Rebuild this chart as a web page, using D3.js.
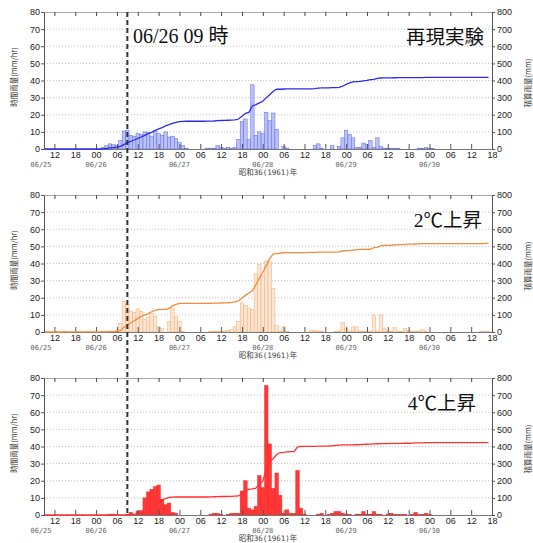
<!DOCTYPE html>
<html>
<head>
<meta charset="utf-8">
<script src="https://cdn.jsdelivr.net/npm/d3@7"></script>
<style>
body { margin: 0; background: #fff; }
svg text { font-family: "Liberation Sans", Arial, sans-serif; }
</style>
</head>
<body>
<svg width="533" height="543"></svg>
<script>
var svg = d3.select("svg");

// hourly rain (mm/hr), one value per hour starting 1961-06-25 09:00
// rows: 06/25 09-23, 06/26, 06/27, 06/28, 06/29, 06/30 00-17
var rainRepro = [
  0,0,0,0,0,0,0,0,0,0,0,0,0,0,0,
  0,0,1,2,3,2.5,2,5,10.5,11,8,7.5,9,8.5,10,9.5,7.5,11,9,8,10,7,7.5,6,
  4,2,0.5,0,0,0,0,0,0.5,0.5,0.5,2,1,0.5,1,0.5,1,5.5,16,17.5,5.5,37.5,8,10,
  9,21.5,16.5,21,11.5,0,1.5,0.5,0,0,0,0,0,0,0,2,3,0.5,0,0,2,0,1.5,6.5,
  11,8.5,6.5,1,1,3.5,2.5,5,1,6.5,1.5,0.5,0.3,0.5,0.3,0.3,0,0,0,0,0,0.5,0.3,0.8,
  0.5,0.3,0,0,0,0,0,0,0,0,0,0,0,0,0,0,0,0
];
var rain2C = [
  0,0,0,0,0,0,0.5,0,0,0,0,0,0,0,0,
  0,0,0.3,0.5,0.5,0.5,1,5,18,16,12,11.5,13.5,12,7.5,8.5,11,9,3,2,0,6,14,9,
  6,0.3,0,0,0,0,0,0,0,0.3,0.5,0.5,0.5,0.5,1,1.5,3,6,17,15.5,14,13,34,39.5,
  33,41.5,41,25.5,4,0.5,3,0.5,0,0,0,0,0,0,1,1,0.5,0.5,0,0,0,0.5,0.5,5.5,
  2,0.5,3,3,0.5,0.5,0.3,0.5,10,0.5,10,2,0.5,0.5,2.5,0.5,0.3,2,1,0.5,0.3,0.5,1.5,0.5,
  0,0,0,0,0,0,0,0,0,0,0,0,0,0,0,0.3,0.5,0.5
];
var rain4C = [
  0,0,0,0,0,0,0,0,0,0,0,0,0,0,0,
  0,0,0,0,0.5,0.5,0,0,0,0.3,1.5,0.5,2.3,2.5,10,13.5,15,16.5,17.5,9,6,7,1.5,1,
  0,0,0,0,0,0,0,0,0,0.5,1,1,0.3,0,0.3,1,1,1,14,20,4,3,5,23,
  16,75.5,41.5,15.5,24.5,11.5,1,3,1,1,26,4,0.5,0,0,0,0.5,1,0,0.3,1,2,2,1,
  0.5,0.3,0,0.5,0.5,2,0.3,0.5,2,0.5,0.3,0,0.5,1,0.3,0.3,0.3,0.3,0,0.3,1.5,0.3,0.3,1,
  0.3,0,0,0,0,0,0,0,0,0,0,0,0,0,0,0,0,0
];

var panelTitles = ["再現実験", "2℃上昇", "4℃上昇"];
var dayLabels = ["06/25", "06/26", "06/27", "06/28", "06/29", "06/30"];
var rainTicks = [0, 10, 20, 30, 40, 50, 60, 70, 80];
var cumTicks = [0, 100, 200, 300, 400, 500, 600, 700, 800];
var markLabel = "06/26 09 時";
var yearLabel = "昭和36(1961)年";

var startTime = new Date(1961, 5, 25, 9),
    endTime = new Date(1961, 5, 30, 18),
    markTime = new Date(1961, 5, 26, 9);

var plotH = 137;
var x = d3.scaleTime().domain([startTime, endTime]).range([44, 492]);
var y = d3.scaleLinear().domain([0, 80]).range([plotH, 0]);
var y2 = d3.scaleLinear().domain([0, 800]).range([plotH, 0]);
var hourW = x(d3.timeHour.offset(startTime, 1)) - x(startTime);

var panels = [
  {rain: rainRepro, title: panelTitles[0], top: 12,  titleX: 484, fill: "#b9c1f8", stroke: "#5a68ee", line: "#2b2bf0"},
  {rain: rain2C,    title: panelTitles[1], top: 195, titleX: 482, fill: "#fde6d2", stroke: "#f5aa72", line: "#f28b3c"},
  {rain: rain4C,    title: panelTitles[2], top: 378, titleX: 476, fill: "#ff3838", stroke: "#ff2020", line: "#ff3030"}
];

panels.forEach(drawPanel);

// time marker
svg.append("line")
    .attr("x1", x(markTime)).attr("x2", x(markTime))
    .attr("y1", 12).attr("y2", 515)
    .attr("stroke", "#333").attr("stroke-width", 2)
    .attr("stroke-dasharray", "5,3");

svg.append("text")
    .attr("x", 133).attr("y", 43)
    .style("font-family", "'Liberation Serif', 'Noto Sans CJK JP', serif")
    .style("font-size", "20px")
    .attr("fill", "#111")
    .text(markLabel);

function drawPanel(p) {
    var g = svg.append("g").attr("transform", "translate(0," + p.top + ")");

    // dotted grid
    g.append("g").selectAll("line")
        .data(rainTicks.slice(1, -1))
        .enter().append("line")
        .attr("x1", 44).attr("x2", 492)
        .attr("y1", d => y(d)).attr("y2", d => y(d))
        .attr("stroke", "#c4c4c4")
        .attr("stroke-dasharray", "1,2");

    var hours = p.rain.map((v, i) => ({t: d3.timeHour.offset(startTime, i), v: v}));

    g.append("g").selectAll("rect")
        .data(hours.filter(d => d.v > 0))
        .enter().append("rect")
        .attr("x", d => x(d.t) - hourW / 2)
        .attr("width", hourW)
        .attr("y", d => y(d.v))
        .attr("height", d => plotH - y(d.v))
        .attr("fill", p.fill)
        .attr("stroke", p.stroke)
        .attr("stroke-width", 0.5);

    // top border with inward ticks
    var top = g.append("g")
        .call(d3.axisTop(x).ticks(d3.timeHour.every(6)).tickFormat("").tickSizeInner(-4).tickSizeOuter(0));
    top.select(".domain").attr("stroke", "#aaa");
    top.selectAll(".tick line").attr("stroke", "#444");

    // bottom axis
    var bottom = g.append("g")
        .attr("transform", "translate(0," + plotH + ")")
        .call(d3.axisBottom(x).ticks(d3.timeHour.every(6))
            .tickFormat(d3.timeFormat("%H")).tickSizeInner(-5).tickSizeOuter(0).tickPadding(3));
    bottom.select(".domain").attr("stroke", "#777");
    bottom.selectAll(".tick line").attr("stroke", "#555");
    bottom.selectAll("text").attr("fill", "#222").style("font-size", "9px");

    // cumulative rain
    var cum = d3.cumsum(p.rain);
    g.append("path")
        .datum(Array.from(cum))
        .attr("fill", "none")
        .attr("stroke", p.line)
        .attr("stroke-width", 1.3)
        .attr("d", d3.line().x((d, i) => x(hours[i].t)).y(d => y2(d)));

    var left = g.append("g")
        .attr("transform", "translate(44,0)")
        .call(d3.axisLeft(y).tickValues(rainTicks).tickSize(3).tickPadding(1));
    var right = g.append("g")
        .attr("transform", "translate(492,0)")
        .call(d3.axisRight(y2).tickValues(cumTicks).tickSize(3).tickPadding(2));
    [left, right].forEach(a => {
        a.select(".domain").attr("stroke", "#555");
        a.selectAll(".tick line").attr("stroke", "#555");
        a.selectAll("text").attr("fill", "#222").style("font-size", "9px");
    });

    // date labels
    g.append("g").selectAll("text")
        .data(dayLabels)
        .enter().append("text")
        .attr("x", (d, i) => {
            var px = x(d3.timeDay.offset(new Date(1961, 5, 25), i));
            return px < 44 ? 41 : px;
        })
        .attr("y", 154.8)
        .attr("text-anchor", "middle")
        .attr("fill", "#666")
        .style("font-family", "'DejaVu Sans Mono', monospace")
        .style("font-size", "7px")
        .text(d => d);

    g.append("text")
        .attr("x", 268).attr("y", 163)
        .attr("text-anchor", "middle")
        .attr("fill", "#444")
        .style("font-family", "'DejaVu Sans Mono', 'Noto Sans CJK JP', monospace")
        .style("font-size", "7.5px")
        .text(yearLabel);

    g.append("text")
        .attr("transform", "translate(13.5,65) rotate(-90)")
        .attr("text-anchor", "middle")
        .attr("dominant-baseline", "central")
        .attr("fill", "#333")
        .style("font-family", "'Noto Sans CJK JP', sans-serif")
        .style("font-size", "7.5px")
        .text("時間雨量(mm/hr)");

    g.append("text")
        .attr("transform", "translate(527.5,71) rotate(-90)")
        .attr("text-anchor", "middle")
        .attr("dominant-baseline", "central")
        .attr("fill", "#333")
        .style("font-family", "'Noto Sans CJK JP', sans-serif")
        .style("font-size", "7.5px")
        .text("積算雨量(mm)");

    g.append("text")
        .attr("x", p.titleX).attr("y", 32)
        .attr("text-anchor", "end")
        .attr("fill", "#111")
        .style("font-family", "'Liberation Serif', 'Noto Sans CJK JP', serif")
        .style("font-size", "19.5px")
        .text(p.title);
}
</script>
</body>
</html>
